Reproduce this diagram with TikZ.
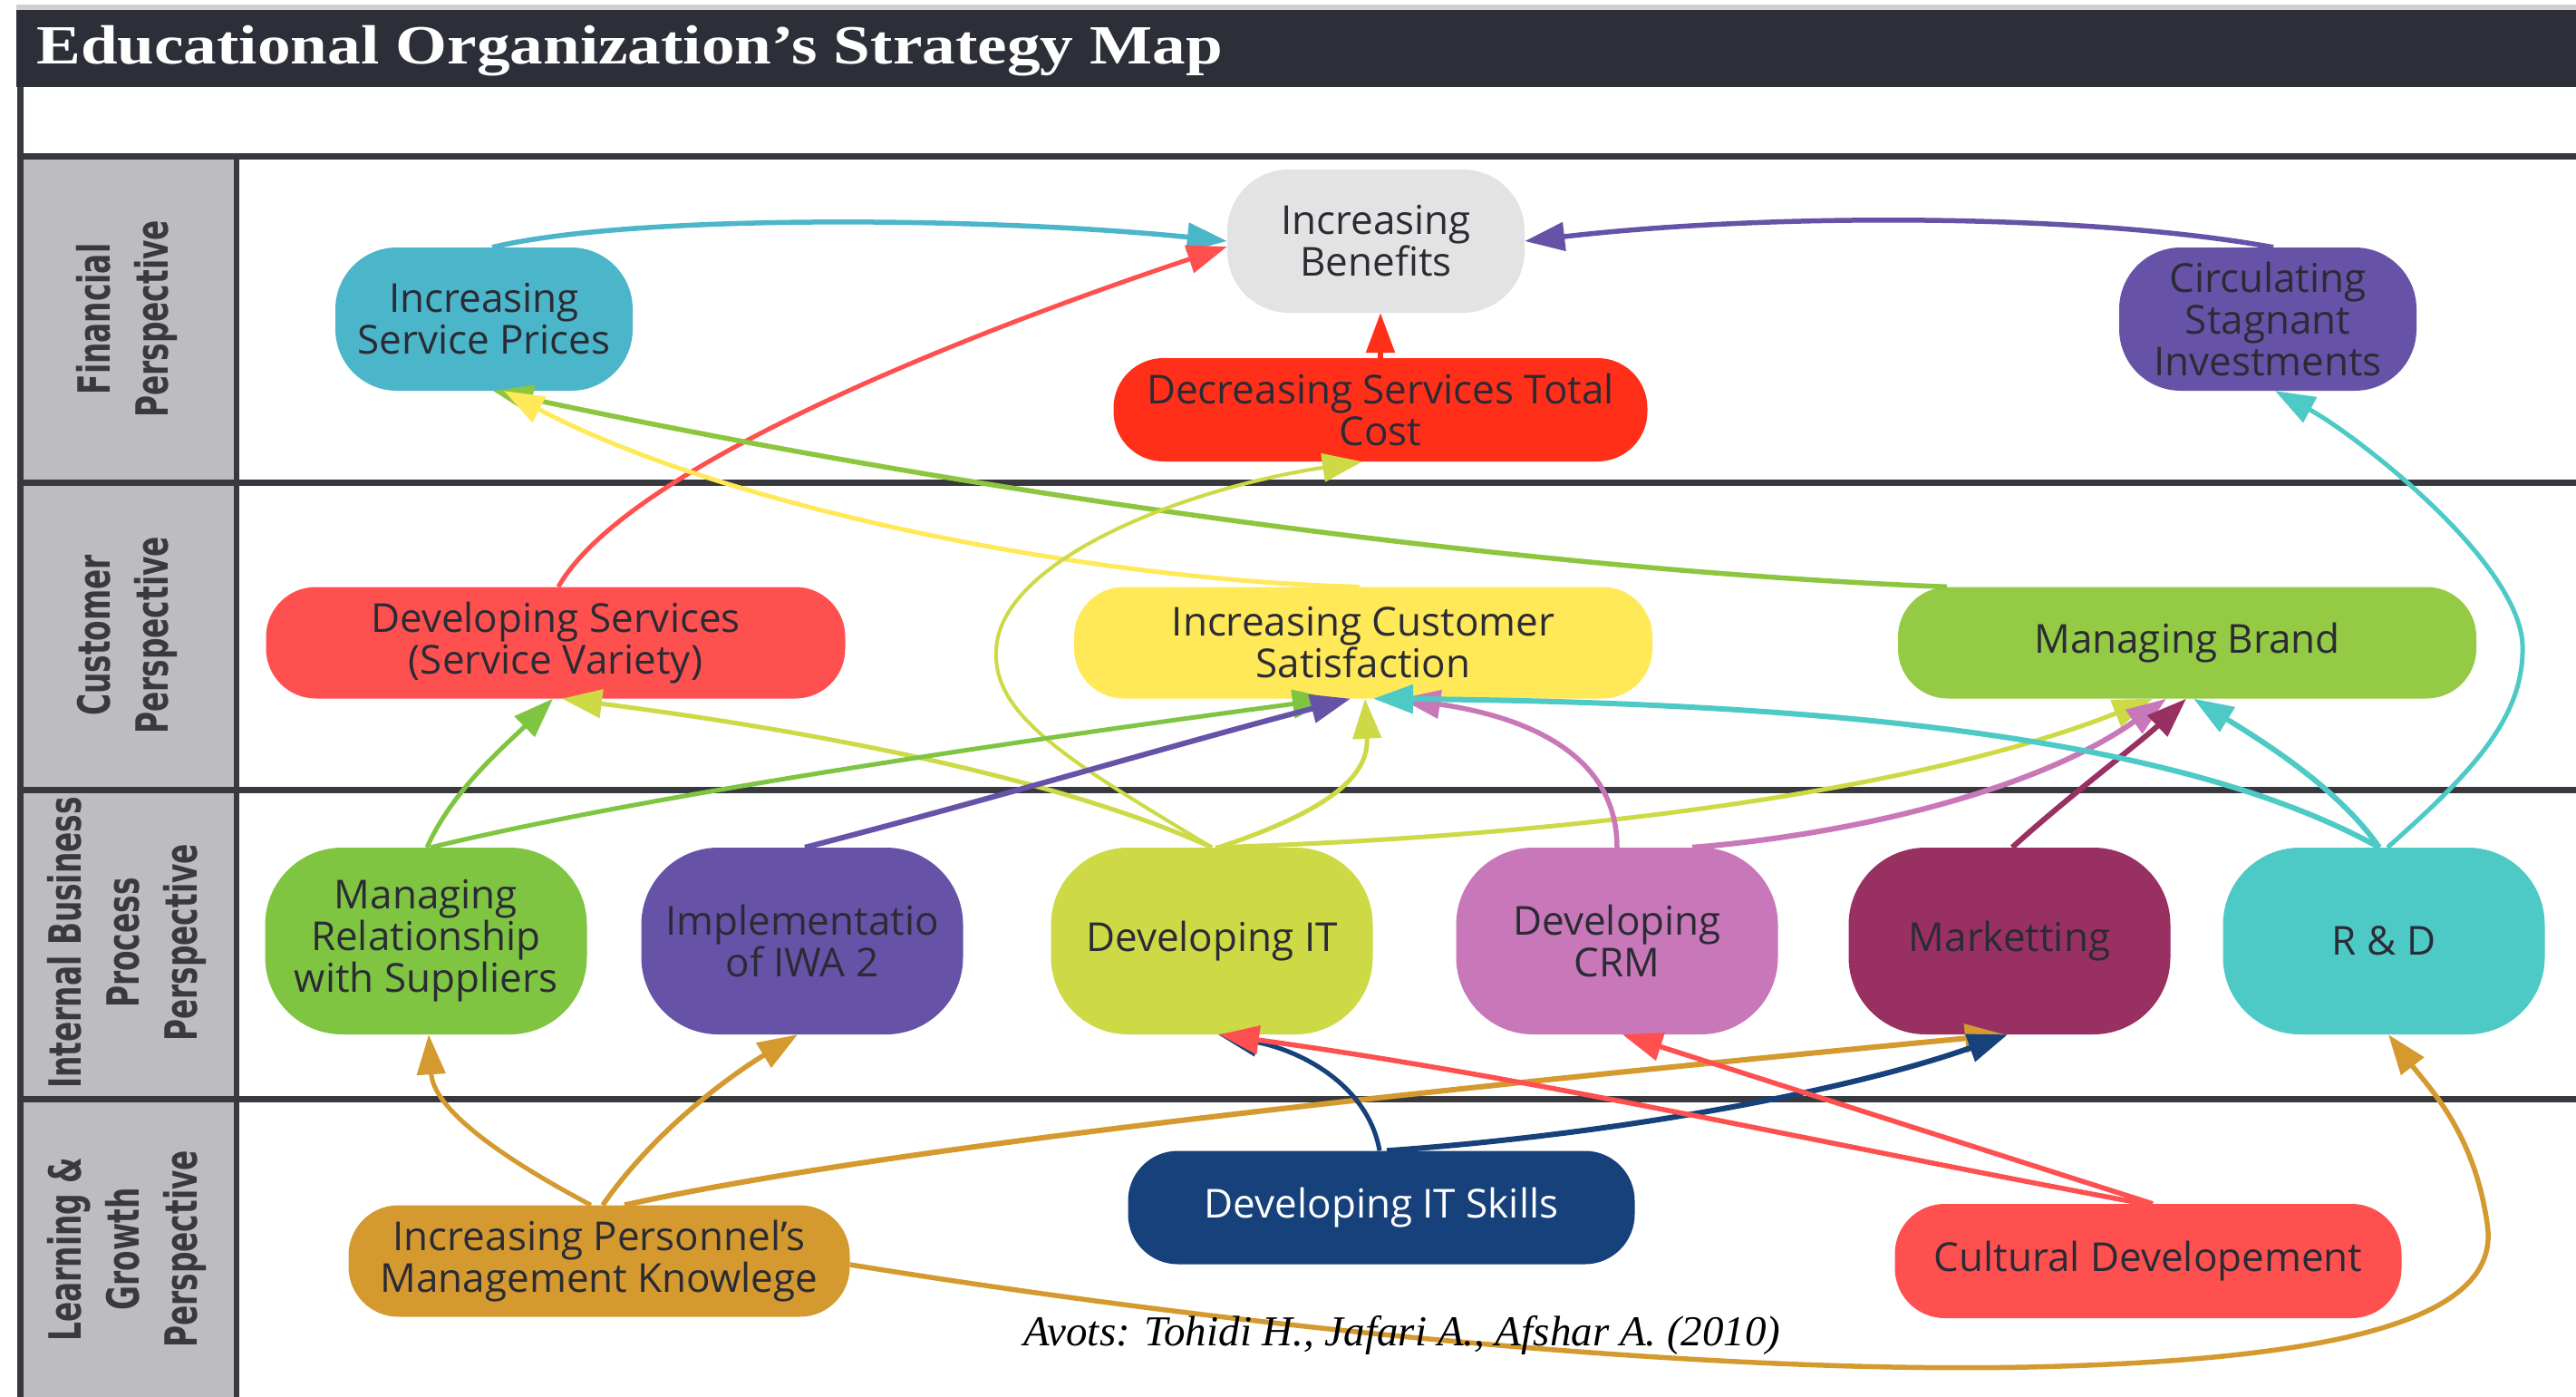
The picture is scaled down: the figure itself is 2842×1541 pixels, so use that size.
\documentclass[tikz,border=0pt]{standalone}
\usepackage{fontspec}
\setmainfont{Liberation Serif}
\newfontfamily\osans{Open Sans}
\newfontfamily\dvsans{DejaVu Sans}
\usetikzlibrary{arrows.meta,calc}
\definecolor{barc}{HTML}{2D2F38}
\definecolor{topgray}{HTML}{CFCFD3}
\definecolor{colgray}{HTML}{BDBDBF}
\definecolor{linec}{HTML}{38393F}
\definecolor{lblc}{HTML}{3A3A3E}
\definecolor{txtc}{HTML}{2B2B35}
\definecolor{cIB}{HTML}{E3E3E3}
\definecolor{cISP}{HTML}{4BB5C9}
\definecolor{cPur}{HTML}{6653A8}
\definecolor{cDSTC}{HTML}{FF2F1A}
\definecolor{cRed}{HTML}{FF5050}
\definecolor{cYel}{HTML}{FFE958}
\definecolor{cMB}{HTML}{94CA44}
\definecolor{cMRS}{HTML}{7FC542}
\definecolor{cDIT}{HTML}{CDDA45}
\definecolor{cCRM}{HTML}{C878B8}
\definecolor{cMK}{HTML}{993062}
\definecolor{cRD}{HTML}{4ECAC6}
\definecolor{cGold}{HTML}{D49A2F}
\definecolor{cBlue}{HTML}{17417B}
\definecolor{cGrnLine}{HTML}{8CC63F}
\begin{document}
\begin{tikzpicture}[x=1pt,y=-1pt,
  nodebox/.style={align=center, text=txtc, font=\osans\fontsize{44}{46}\selectfont, inner sep=0pt},
  pill/.style={nodebox, rounded corners=55pt, minimum height=123pt},
  barrel/.style={nodebox, rounded corners=68pt, minimum width=328pt, minimum height=158pt},
  tall/.style={nodebox, rounded corners=85pt, minimum width=355pt, minimum height=206pt},
  lbl/.style={rotate=90, text=lblc, font=\dvsans\bfseries\fontsize{49}{64}\selectfont, inner sep=0pt},
  rowline/.style={draw=linec, line width=7pt},
  conn/.style={line width=5.5pt, -{Triangle[length=44pt,width=31pt]}},
  thin/.style={line width=4pt}
]
\useasboundingbox (0,0) rectangle (2842,1541);
\fill[white] (0,0) rectangle (2842,1541);
% title band
\fill[topgray] (18,5) rectangle (2842,11);
\fill[barc] (18,11) rectangle (2842,96);
\node[anchor=base west, text=white, inner sep=0pt, font=\bfseries\fontsize{61}{61}\selectfont] (title) at (40,71) {\scalebox{1.2}[1]{Educational Organization’s Strategy Map}};
% frame
\fill[colgray] (22,173) rectangle (261,1541);
\draw[draw=linec, line width=7pt] (22,96) -- (22,1541);
\draw[draw=linec, line width=6pt] (261,173) -- (261,1541);
\draw[rowline] (19,173) -- (2842,173);
\draw[rowline] (19,532) -- (2842,532);
\draw[rowline] (19,871) -- (2842,871);
\draw[rowline] (19,1212) -- (2842,1212);
% side labels
\node[lbl] (lfin) at (141,352) {\scalebox{0.67}[1]{\begin{tabular}{@{}c@{}}Financial\\Perspective\end{tabular}}};
\node[lbl] (lcus) at (141,701) {\scalebox{0.67}[1]{\begin{tabular}{@{}c@{}}Customer\\Perspective\end{tabular}}};
\node[lbl] (lint) at (141,1040) {\scalebox{0.67}[1]{\begin{tabular}{@{}c@{}}Internal Business\\Process\\Perspective\end{tabular}}};
\node[lbl] (llrn) at (141,1378) {\scalebox{0.67}[1]{\begin{tabular}{@{}c@{}}Learning \&\\Growth\\Perspective\end{tabular}}};
% nodes
\node[barrel, fill=cIB] (ib) at (1518,266) {Increasing\\Benefits};
\node[barrel, fill=cISP] (isp) at (534,352) {Increasing\\Service Prices};
\node[barrel, fill=cPur] (csi) at (2502,352) {Circulating\\Stagnant\\Investments};
\node[pill, fill=cDSTC, minimum width=589pt, minimum height=114pt] (dstc) at (1523,452) {Decreasing Services Total\\Cost};
\node[pill, fill=cRed, minimum width=639pt] (ds) at (613,709) {Developing Services\\(Service Variety)};
\node[pill, fill=cYel, minimum width=638pt] (ics) at (1504,709) {Increasing Customer\\Satisfaction};
\node[pill, fill=cMB, minimum width=638pt] (mb) at (2413,709) {Managing Brand};
\node[tall, fill=cMRS] (mrs) at (470,1038) {Managing\\Relationship\\with Suppliers};
\node[tall, fill=cPur] (iwa) at (885,1038) {Implementatio\\of IWA 2};
\node[tall, fill=cDIT] (dit) at (1337,1038) {Developing IT};
\node[tall, fill=cCRM] (dcrm) at (1784,1038) {Developing\\CRM};
\node[tall, fill=cMK] (mk) at (2217,1038) {Marketting};
\node[tall, fill=cRD] (rd) at (2630,1038) {R \& D};
\node[pill, fill=cGold, minimum width=553pt] (ipmk) at (661,1391) {Increasing Personnel’s\\Management Knowlege};
\node[pill, fill=cBlue, text=white, minimum width=559pt, minimum height=125pt] (dits) at (1524,1332) {Developing IT Skills};
\node[pill, fill=cRed, minimum width=559pt, minimum height=126pt] (cd) at (2370,1391) {Cultural Developement};
% connectors
\draw[conn, cISP] ($(isp.north)+(9,0)$) .. controls (700,235) and (1100,240) .. (ib.west);
\draw[conn, cRed, line width=5pt] ($(ds.north)+(3,0)$) .. controls (700,500) and (1150,340) .. ($(ib.west)+(0,6)$);
\draw[conn, cDSTC] (dstc.north) -- ($(ib.south)+(5,0)$);
\draw[conn, cPur] ($(csi.north)+(6,0)$) .. controls (2300,235) and (1950,235) .. (ib.east);
\draw[conn, cGrnLine] ($(mb.north west)+(54,0)$) .. controls (1700,630) and (1100,550) .. ($(isp.south)+(10,0)$);
\draw[conn, cYel, line width=5pt] ($(ics.north)+(-4,0)$) .. controls (1200,640) and (800,560) .. ($(isp.south)+(22,0)$);
\draw[conn, cDIT, thin] (dit.north) .. controls (1180,840) and (1095,790) .. (1099,717) .. controls (1103,620) and (1300,540) .. ($(dstc.south)+(-20,0)$);
\draw[conn, cDIT, line width=5pt] ($(dit.north)+(7,0)$) .. controls (1480,890) and (1510,850) .. ($(ics.south)+(2,0)$);
\draw[conn, cDIT, line width=5pt] (dit.north) .. controls (1150,850) and (850,800) .. ($(ds.south)+(7,0)$);
\draw[conn, cDIT, line width=5pt] ($(dit.north)+(4,0)$) .. controls (1800,920) and (2150,860) .. ($(mb.south)+(-38,0)$);
\draw[conn, cMRS, line width=5pt] ($(mrs.north)+(1,0)$) .. controls (500,870) and (560,820) .. ($(ds.south)+(-3,0)$);
\draw[conn, cMRS, line width=5pt] ($(mrs.north)+(5,0)$) .. controls (700,880) and (1100,820) .. ($(ics.south)+(-34,0)$);
\draw[conn, cPur, line width=6pt] ($(iwa.north)+(3,0)$) .. controls (1100,880) and (1300,820) .. ($(ics.south)+(-14,0)$);
\draw[conn, cCRM] (dcrm.north) .. controls (1784,830) and (1680,790) .. ($(ics.south)+(41,0)$);
\draw[conn, cCRM, line width=6pt] ($(dcrm.north)+(83,0)$) .. controls (2050,920) and (2250,870) .. ($(mb.south)+(-23,0)$);
\draw[conn, cMK, line width=6pt] ($(mk.north)+(3,0)$) .. controls (2280,880) and (2360,820) .. ($(mb.south)+(-1,0)$);
\draw[conn, cRD, line width=6pt] ($(rd.north)+(-5,0)$) .. controls (2580,870) and (2500,820) .. ($(mb.south)+(7,0)$);
\draw[conn, cRD, line width=6pt] ($(rd.north)+(-5,0)$) .. controls (2400,810) and (2000,775) .. ($(ics.south)+(11,0)$);
\draw[conn, cRD, line width=5pt] ($(rd.north)+(4,0)$) .. controls (2730,850) and (2785,790) .. (2783,712) .. controls (2780,620) and (2600,480) .. ($(csi.south)+(8,0)$);
\draw[conn, cGold, line width=5pt] ($(ipmk.north)+(-9,0)$) .. controls (540,1270) and (478,1220) .. ($(mrs.south)+(3,0)$);
\draw[conn, cGold] ($(ipmk.north)+(4,0)$) .. controls (720,1250) and (800,1190) .. ($(iwa.south)+(-5,0)$);
\draw[conn, cGold, line width=6pt] ($(ipmk.north)+(28,0)$) .. controls (1000,1260) and (1700,1190) .. ($(mk.south)+(-5,0)$);
\draw[conn, cGold] ($(ipmk.east)+(0,4)$) .. controls (1400,1470) and (1900,1515) .. (2236,1508) .. controls (2600,1500) and (2760,1450) .. (2744,1350) .. controls (2730,1250) and (2680,1200) .. ($(rd.south)+(5,0)$);
\draw[conn, cBlue, line width=5pt] ($(dits.north)+(-2,0)$) .. controls (1510,1200) and (1440,1160) .. ($(dit.south)+(7,0)$);
\draw[conn, cBlue, line width=6pt] ($(dits.north)+(6,0)$) .. controls (1800,1250) and (2050,1200) .. ($(mk.south)+(-2,0)$);
\draw[conn, cRed] ($(cd.north)+(-5,0)$) .. controls (2000,1260) and (1700,1190) .. ($(dit.south)+(8,0)$);
\draw[conn, cRed] ($(cd.north)+(5,0)$) -- ($(dcrm.south)+(6,0)$);
% caption
\node[font=\itshape\fontsize{47}{52}\selectfont, inner sep=0pt] (cap) at (1547,1473) {Avots: Tohidi H., Jafari A., Afshar A. (2010)};
\end{tikzpicture}
\end{document}
